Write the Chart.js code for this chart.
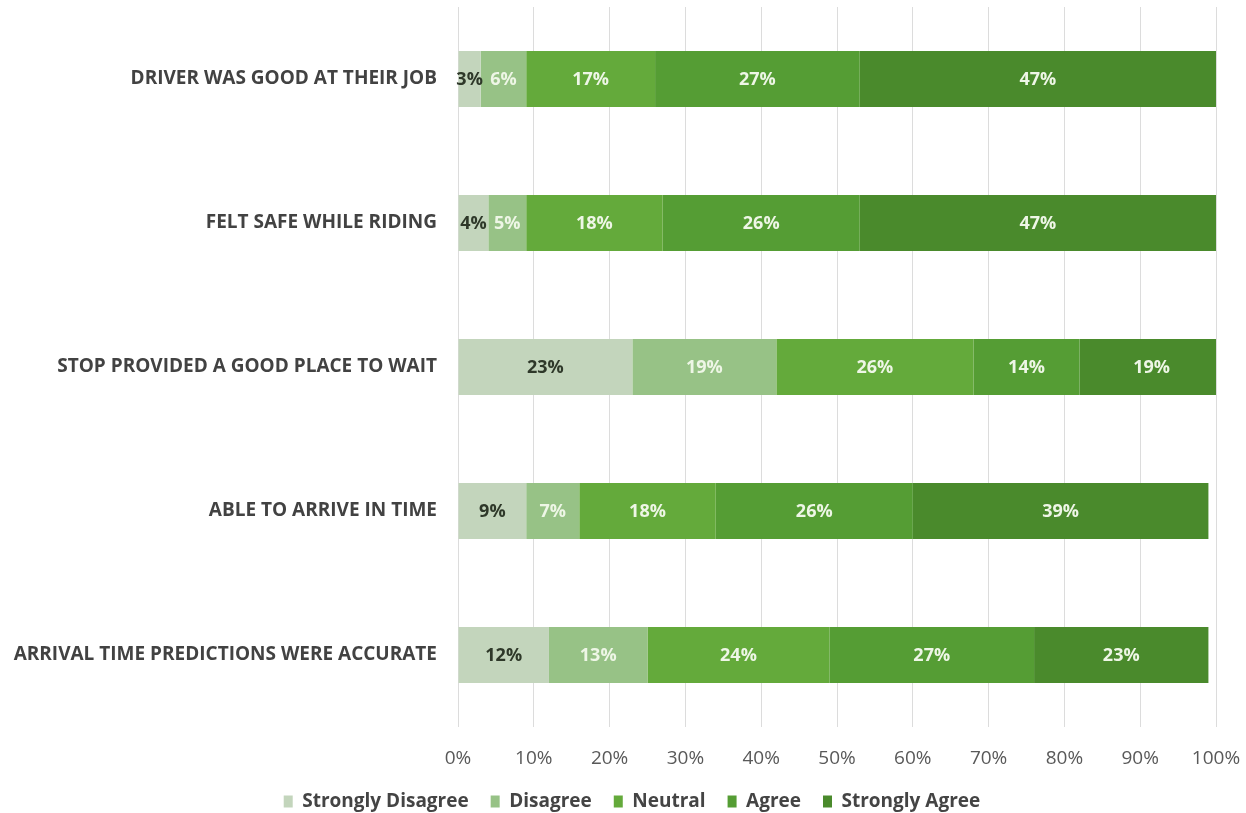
<!DOCTYPE html>
<html>
<head>
<meta charset="utf-8">
<script src="https://cdn.jsdelivr.net/npm/chart.js@4/dist/chart.umd.min.js"></script>
<style>
  html, body { margin: 0; padding: 0; background: #ffffff; }
  #wrap { width: 1246px; height: 813px; position: relative; }
</style>
</head>
<body>
<div id="wrap"><canvas id="c" width="1246" height="813"></canvas></div>
<script>
// Survey statements (top to bottom)
const categories = [
  'DRIVER WAS GOOD AT THEIR JOB',
  'FELT SAFE WHILE RIDING',
  'STOP PROVIDED A GOOD PLACE TO WAIT',
  'ABLE TO ARRIVE IN TIME',
  'ARRIVAL TIME PREDICTIONS WERE ACCURATE'
];

// Share of responses per answer, in percent
const stronglyDisagree = [3, 4, 23, 9, 12];
const disagree         = [6, 5, 19, 7, 13];
const neutral          = [17, 18, 26, 18, 24];
const agree            = [27, 26, 14, 26, 27];
const stronglyAgree    = [47, 47, 19, 39, 23];

const seriesNames = ['Strongly Disagree', 'Disagree', 'Neutral', 'Agree', 'Strongly Agree'];
const seriesValues = [stronglyDisagree, disagree, neutral, agree, stronglyAgree];
const seriesColors = ['#c3d5bc', '#97c286', '#64aa3b', '#559d34', '#4a8a2c'];

// Axis tick values (percent)
const xTicks = [0, 10, 20, 30, 40, 50, 60, 70, 80, 90, 100];

const FONT = "'Open Sans', 'DejaVu Sans', sans-serif";

// Writes each segment's percentage in the middle of its bar
const segmentLabels = {
  id: 'segmentLabels',
  afterDatasetsDraw(chart) {
    const ctx = chart.ctx;
    ctx.save();
    ctx.font = "bold 18px " + FONT;
    ctx.textAlign = 'center';
    ctx.textBaseline = 'middle';
    chart.data.datasets.forEach((ds, di) => {
      const meta = chart.getDatasetMeta(di);
      meta.data.forEach((bar, i) => {
        const v = ds.data[i];
        const props = bar.getProps(['x', 'y', 'base'], true);
        const cx = (props.x + props.base) / 2;
        ctx.fillStyle = di === 0 ? '#2e3829' : '#eef6e6';
        ctx.fillText(v + '%', cx, props.y + 1);
      });
    });
    ctx.restore();
  }
};

// Nudges the legend row a little to the right of the canvas centre
const legendShift = {
  id: 'legendShift',
  afterLayout(chart) {
    const lg = chart.legend;
    if (lg) { lg.left += 24; lg.right += 24; }
  }
};

new Chart(document.getElementById('c'), {
  type: 'bar',
  data: {
    labels: categories,
    datasets: seriesNames.map((name, k) => ({
      label: name,
      data: seriesValues[k],
      backgroundColor: seriesColors[k],
      borderWidth: 0,
      categoryPercentage: 1,
      barPercentage: 0.39
    }))
  },
  options: {
    indexAxis: 'y',
    responsive: false,
    animation: false,
    devicePixelRatio: 1,
    layout: { padding: { left: 0, right: 30, top: 7, bottom: -8 } },
    scales: {
      x: {
        stacked: true,
        min: 0,
        max: 100,
        afterBuildTicks(scale) { scale.ticks = xTicks.map(v => ({ value: v })); },
        afterFit(scale) {
          scale.height = 43;
          scale.paddingLeft = 0;
          scale.paddingRight = 0;
        },
        grid: { color: '#dcdcdc', lineWidth: 1, drawTicks: false },
        border: { display: false },
        ticks: {
          padding: 20,
          color: '#595959',
          font: { family: FONT, size: 19 },
          callback: v => v + '%'
        }
      },
      y: {
        stacked: true,
        afterFit(scale) {
          scale.width = 458;
          scale.paddingTop = 0;
          scale.paddingBottom = 0;
        },
        grid: { display: false, drawTicks: false },
        border: { display: false },
        ticks: {
          padding: 21,
          color: '#424242',
          font: { family: FONT, size: 19, weight: 'bold' }
        }
      }
    },
    plugins: {
      legend: {
        position: 'bottom',
        labels: {
          boxWidth: 9,
          boxHeight: 12,
          padding: 22,
          color: '#444444',
          font: { family: FONT, size: 19, weight: 'bold' }
        }
      },
      tooltip: { enabled: false }
    }
  },
  plugins: [segmentLabels, legendShift]
});
</script>
</body>
</html>
